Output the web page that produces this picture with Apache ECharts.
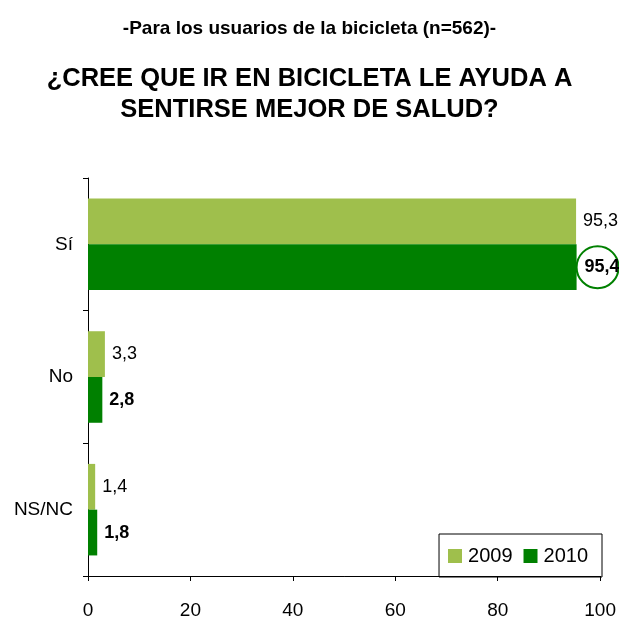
<!DOCTYPE html>
<html>
<head>
<meta charset="utf-8">
<script src="https://cdn.jsdelivr.net/npm/echarts@6/dist/echarts.min.js"></script>
<style>
  html, body { margin: 0; padding: 0; background: #fff; }
  #main { width: 619px; height: 620px; }
</style>
</head>
<body>
<div id="main"></div>
<script>
// datos
var categorias = ['Sí', 'No', 'NS/NC'];
var anios = ['2009', '2010'];
var valores2009 = [95.3, 3.3, 1.4];
var valores2010 = [95.4, 2.8, 1.8];
var ticksX = [0, 20, 40, 60, 80, 100];

var myChart = echarts.init(document.getElementById('main'));

function fmt(p) {
    return p.value.toFixed(1).replace('.', ',');
}

// el 95,4 va rodeado por un circulo
var datos2010 = valores2010.map(function (v, i) {
    if (i == 0) {
        return {
            value: v,
            label: {
                distance: 0,
                borderColor: '#008000',
                borderWidth: 2,
                borderRadius: 21,
                width: 34,
                height: 42,
                lineHeight: 42,
                align: 'left',
                padding: [0, 0, 0, 8]
            }
        };
    }
    return v;
});

var option = {
    animation: false,
    textStyle: { fontFamily: 'Liberation Sans, Arial, sans-serif' },
    title: [{
        text: '-Para los usuarios de la bicicleta (n=562)-',
        left: 'center',
        top: 14,
        textStyle: { fontSize: 19, fontWeight: 'bold', color: '#000' }
    }, {
        text: '¿CREE QUE IR EN BICICLETA LE AYUDA A\nSENTIRSE MEJOR DE SALUD?',
        left: 'center',
        top: 58,
        textStyle: { fontSize: 25.5, fontWeight: 'bold', color: '#000', lineHeight: 31, align: 'center' }
    }],
    legend: {
        data: anios,
        right: 17,
        top: 534,
        orient: 'horizontal',
        borderColor: '#000',
        borderWidth: 1,
        padding: [12, 14, 11, 9],
        itemWidth: 14,
        itemHeight: 14,
        itemGap: 11,
        icon: 'rect',
        textStyle: { fontSize: 20, color: '#000', padding: [0, 0, 0, 1] }
    },
    grid: { left: 88, right: 18, top: 178, bottom: 43, containLabel: false },
    xAxis: {
        type: 'value',
        min: 0,
        max: 100,
        interval: 20,
        axisLine: { show: true, lineStyle: { color: '#000' } },
        axisTick: { show: true, length: 5, lineStyle: { color: '#000' } },
        splitLine: { show: false },
        axisLabel: {
            fontSize: 19,
            color: '#000',
            margin: 25,
            formatter: function (v) { return ticksX.indexOf(v) >= 0 ? String(v) : ''; }
        }
    },
    yAxis: {
        type: 'category',
        data: categorias,
        inverse: true,
        axisLine: { show: true, lineStyle: { color: '#000' } },
        axisTick: { show: true, length: 5, lineStyle: { color: '#000' } },
        axisLabel: { fontSize: 19, color: '#000', margin: 15 }
    },
    series: [{
        name: '2009',
        type: 'bar',
        data: valores2009,
        barGap: '0%',
        barCategoryGap: '31%',
        itemStyle: { color: '#9fbf4c' },
        label: {
            show: true,
            position: 'right',
            distance: 7,
            fontSize: 18,
            color: '#000',
            formatter: fmt
        }
    }, {
        name: '2010',
        type: 'bar',
        data: datos2010,
        barGap: '0%',
        barCategoryGap: '31%',
        itemStyle: { color: '#008000' },
        label: {
            show: true,
            position: 'right',
            distance: 7,
            fontSize: 18,
            fontWeight: 'bold',
            color: '#000',
            formatter: fmt
        }
    }]
};

myChart.setOption(option);
</script>
</body>
</html>
